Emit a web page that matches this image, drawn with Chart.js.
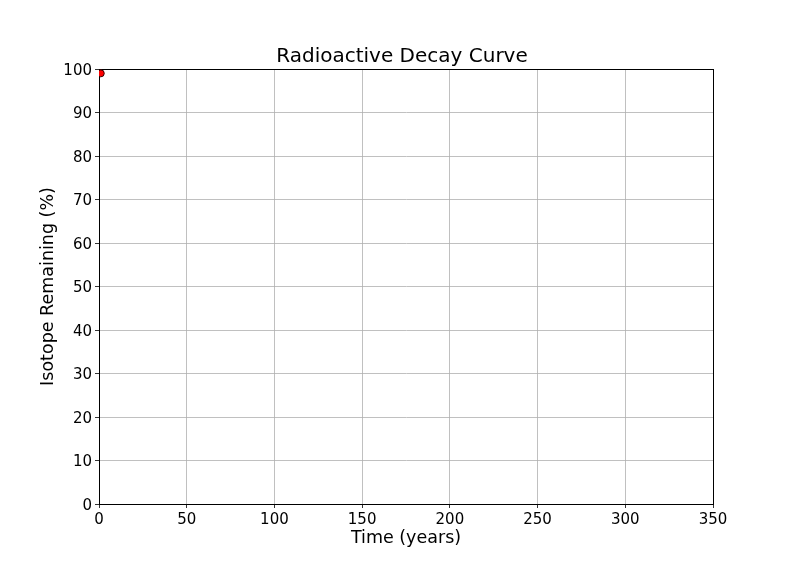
<!DOCTYPE html>
<html>
<head>
<meta charset="utf-8">
<script src="https://cdn.jsdelivr.net/npm/chart.js@4"></script>
<style>
  body { margin: 0; background: #fff; }
  #c { display: block; }
</style>
</head>
<body>
<canvas id="c" width="792" height="576"></canvas>
<script>
// data
const timeYears = [1];
const remainingPct = [99];
const xTicks = [0, 50, 100, 150, 200, 250, 300, 350];
const yTicks = [0, 10, 20, 30, 40, 50, 60, 70, 80, 90, 100];
const chartTitle = 'Radioactive Decay Curve';

Chart.defaults.font.family = 'DejaVu Sans';
Chart.defaults.color = '#000';

// kotak hitam di sekeliling area plot + judul di atas area plot
const framePlugin = {
  id: 'frame',
  beforeDatasetsDraw(chart) {
    const a = chart.chartArea;
    const ctx = chart.ctx;
    ctx.save();
    ctx.strokeStyle = '#000';
    ctx.lineWidth = 1;
    ctx.strokeRect(Math.round(a.left) + 0.5, Math.round(a.top) + 0.5,
      Math.round(a.right - a.left), Math.round(a.bottom - a.top));
    ctx.restore();
  },
  afterDraw(chart) {
    const a = chart.chartArea;
    const ctx = chart.ctx;
    ctx.save();
    ctx.fillStyle = '#000';
    ctx.font = '20px "DejaVu Sans"';
    ctx.textAlign = 'center';
    ctx.textBaseline = 'middle';
    ctx.fillText(chartTitle, (a.left + a.right) / 2 - 4, a.top - 12);
    ctx.restore();
  }
};

new Chart(document.getElementById('c'), {
  type: 'scatter',
  data: {
    datasets: [{
      data: timeYears.map((t, i) => ({ x: t, y: remainingPct[i] })),
      backgroundColor: '#ff0000',
      borderColor: '#3a0000',
      borderWidth: 1,
      pointRadius: 3.5
    }]
  },
  options: {
    responsive: false,
    animation: false,
    layout: { padding: { left: 0, right: 79, top: 69, bottom: 0 } },
    plugins: {
      legend: { display: false },
      tooltip: { enabled: false },
      title: { display: false }
    },
    scales: {
      x: {
        type: 'linear',
        min: 0, max: 350,
        afterFit(s) { s.height = 72; },
        afterBuildTicks(s) { s.ticks = xTicks.map(v => ({ value: v })); },
        ticks: { font: { size: 15 }, color: '#000', padding: 3, maxRotation: 0 },
        grid: { color: '#b0b0b0', lineWidth: 0.8, tickColor: '#000', tickLength: 4 },
        border: { color: '#000', width: 1 },
        title: { display: true, text: 'Time (years)', font: { size: 17.5 }, color: '#000', padding: { top: 0, bottom: 27.5 } }
      },
      y: {
        type: 'linear',
        min: 0, max: 100,
        afterFit(s) { s.width = 99; },
        afterBuildTicks(s) { s.ticks = yTicks.map(v => ({ value: v })); },
        ticks: { font: { size: 15 }, color: '#000', padding: 3, labelOffset: 2 },
        grid: { color: '#b0b0b0', lineWidth: 0.8, tickColor: '#000', tickLength: 4 },
        border: { color: '#000', width: 1 },
        title: { display: true, text: 'Isotope Remaining (%)', font: { size: 17.5 }, color: '#000', padding: { top: 37.5, bottom: 0 } }
      }
    }
  },
  plugins: [framePlugin]
});
</script>
</body>
</html>
